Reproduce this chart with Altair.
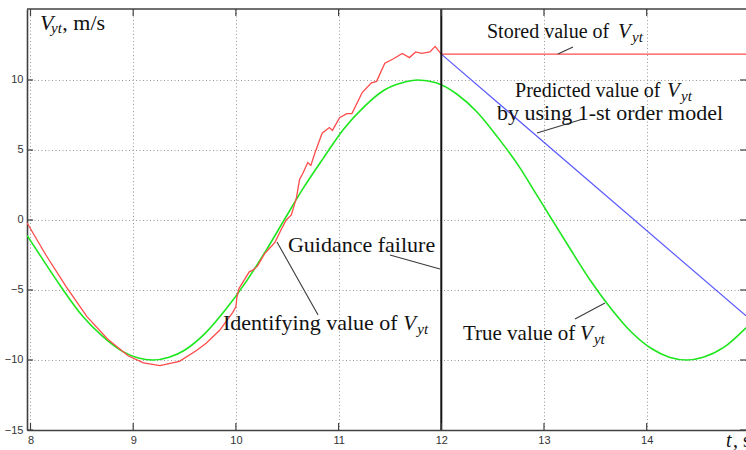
import altair as alt
import pandas as pd

# ---------------- data ----------------
T_MIN, T_MAX = 7.966, 14.967
V_MIN, V_MAX = -15.0, 15.07

true_t = [7.966, 8.10, 8.30, 8.50, 8.70, 8.90, 9.05, 9.19, 9.35, 9.50, 9.70, 9.90,
          10.10, 10.30, 10.47, 10.65, 10.85, 11.05, 11.25, 11.45, 11.62, 11.77, 11.95,
          12.15, 12.35, 12.55, 12.75, 12.92, 13.08, 13.25, 13.45, 13.65, 13.85, 14.05,
          14.22, 14.39, 14.55, 14.75, 14.967]
true_v = [-1.1, -2.6, -4.8, -6.8, -8.3, -9.4, -9.85, -10.0, -9.8, -9.3, -8.1, -6.4,
          -4.4, -2.1, 0.0, 2.2, 4.4, 6.5, 8.1, 9.3, 9.8, 10.0, 9.8,
          9.0, 7.7, 5.9, 3.9, 1.9, 0.0, -2.0, -4.3, -6.3, -8.0, -9.2,
          -9.8, -10.0, -9.8, -9.1, -7.7]

ident_t = [7.966, 8.15, 8.35, 8.55, 8.75, 8.95, 9.10, 9.26, 9.45, 9.62, 9.71, 9.84,
           9.97, 10.00, 10.01, 10.03, 10.13, 10.16, 10.21, 10.28, 10.33, 10.38, 10.44,
           10.49, 10.54, 10.59, 10.62, 10.65, 10.70, 10.73, 10.77, 10.81, 10.84, 10.91,
           10.94, 11.01, 11.08, 11.13, 11.23, 11.32, 11.37, 11.45, 11.53, 11.62, 11.69,
           11.75, 11.81, 11.89, 11.94, 12.00]
ident_v = [-0.2, -2.5, -4.8, -6.9, -8.5, -9.7, -10.2, -10.4, -10.1, -9.3, -8.8, -7.9,
           -6.6, -6.2, -5.5, -4.9, -3.7, -3.6, -3.3, -2.4, -2.0, -1.6, -0.7,
           0.0, 0.36, 1.6, 2.9, 3.3, 4.1, 3.9, 4.8, 5.6, 6.2, 6.6,
           6.4, 7.3, 7.6, 7.6, 9.1, 9.8, 9.9, 11.2, 11.5, 11.9, 11.6,
           12.0, 11.9, 12.0, 12.4, 11.85]

stored_t = [12.0, 14.967]
stored_v = [11.85, 11.85]
pred_t = [12.0, 14.967]
pred_v = [11.85, -6.85]
failure_t = [12.0]

x_ticks = [8, 9, 10, 11, 12, 13, 14]
y_ticks = [-15, -10, -5, 0, 5, 10]

label_text = ["Stored value of", "Predicted value of", "by using 1-st order model",
              "Guidance failure", "Identifying value of", "True value of"]
label_t = [12.445, 12.718, 12.542, 10.507, 9.874, 12.211]
label_v = [13.0, 8.78, 7.14, -2.29, -7.86, -8.57]
label_size = [20, 20, 22, 22, 22, 21]

vsym_t = [13.72, 14.198, 11.63, 13.35]
vsym_v = [13.0, 8.78, -7.86, -8.57]
sub_t = [13.857, 14.334, 11.766, 13.486]
sub_v = [12.71, 8.50, -8.14, -8.86]

lead_t1 = [13.136, 12.932, 11.50, 10.40, 13.302]
lead_v1 = [11.86, 6.21, -2.50, -1.57, -7.07]
lead_t2 = [13.282, 13.380, 11.987, 10.80, 13.594]
lead_v2 = [12.36, 7.21, -3.50, -6.79, -5.93]

# ---------------- layout ----------------
W, H = 719, 421
SERIF = "Liberation Serif"
SANS = "Liberation Sans"

xs = alt.Scale(domain=[T_MIN, T_MAX], nice=False, zero=False)
ys = alt.Scale(domain=[V_MIN, V_MAX], nice=False, zero=False)

x_axis = alt.Axis(values=x_ticks, grid=True, ticks=False, labelPadding=4, title=None,
                  labelFont=SANS, labelFontSize=11, labelColor="#333",
                  domainColor="#404040", domainWidth=1.6,
                  gridColor="#999999", gridDash=[1, 2.5], gridWidth=1, format="d")
y_axis = alt.Axis(values=y_ticks, grid=True, ticks=False, labelPadding=4, title=None,
                  labelFont=SANS, labelFontSize=11, labelColor="#333",
                  domainColor="#404040", domainWidth=1.6,
                  gridColor="#999999", gridDash=[1, 2.5], gridWidth=1, format="d")


def X(field="t"):
    return alt.X(f"{field}:Q", scale=xs, axis=x_axis)


def Y(field="v"):
    return alt.Y(f"{field}:Q", scale=ys, axis=y_axis)


INK = "#111"
FRAME = "#404040"

# frame: top line and inward ticks
base_df = pd.DataFrame({"t": [T_MIN], "v": [V_MAX]})
xt_df = pd.DataFrame({"t": x_ticks})
yt_df = pd.DataFrame({"v": y_ticks})
top_line = alt.Chart(base_df).mark_rule(color=FRAME, strokeWidth=1.6).encode(
    x=alt.value(0), x2=alt.value(W), y=alt.value(0))
tick_bottom = alt.Chart(xt_df).mark_rule(color=FRAME, strokeWidth=1.2).encode(
    x=X(), y=alt.value(H), y2=alt.value(H - 7))
tick_top = alt.Chart(xt_df).mark_rule(color=FRAME, strokeWidth=1.2).encode(
    x=X(), y=alt.value(0), y2=alt.value(7))
tick_left = alt.Chart(yt_df).mark_rule(color=FRAME, strokeWidth=1.2).encode(
    y=Y(), x=alt.value(0), x2=alt.value(6))
tick_right = alt.Chart(yt_df).mark_rule(color=FRAME, strokeWidth=1.2).encode(
    y=Y(), x=alt.value(W), x2=alt.value(W - 6))

# curves
true_df = pd.DataFrame({"t": true_t, "v": true_v})
ident_df = pd.DataFrame({"t": ident_t, "v": ident_v})
stored_df = pd.DataFrame({"t": stored_t, "v": stored_v})
pred_df = pd.DataFrame({"t": pred_t, "v": pred_v})

true_line = alt.Chart(true_df).mark_line(color="#1ee61e", strokeWidth=1.6,
                                         interpolate="monotone", clip=True).encode(
    x=X(), y=Y(), order="t:Q")
ident_line = alt.Chart(ident_df).mark_line(color="#ff4a4a", strokeWidth=1.3, clip=True).encode(
    x=X(), y=Y(), order="t:Q")
stored_line = alt.Chart(stored_df).mark_line(color="#ff4a4a", strokeWidth=1.3, clip=True).encode(
    x=X(), y=Y())
pred_line = alt.Chart(pred_df).mark_line(color="#5a5aff", strokeWidth=1.2, clip=True).encode(
    x=X(), y=Y())

fail_rule = alt.Chart(pd.DataFrame({"t": failure_t})).mark_rule(color=INK, strokeWidth=2).encode(
    x=X(), y=alt.value(0), y2=alt.value(H))

# leader lines
lead_df = pd.DataFrame({"t": lead_t1, "v": lead_v1, "t2": lead_t2, "v2": lead_v2})
leaders = alt.Chart(lead_df).mark_rule(color="#3a3a3a", strokeWidth=1.1).encode(
    x=X(), y=Y(), x2="t2:Q", y2="v2:Q")

# annotation texts
lab_df = pd.DataFrame({"t": label_t, "v": label_v, "txt": label_text, "fs": label_size})
labels = alt.Chart(lab_df).mark_text(font=SERIF, align="left",
                                     baseline="alphabetic", color=INK).encode(
    x=X(), y=Y(), text="txt:N", size=alt.Size("fs:Q", scale=None, legend=None))
vs_df = pd.DataFrame({"t": vsym_t, "v": vsym_v, "txt": ["V"] * len(vsym_t)})
vsyms = alt.Chart(vs_df).mark_text(font=SERIF, fontSize=21, fontStyle="italic", align="left",
                                   baseline="alphabetic", color=INK).encode(
    x=X(), y=Y(), text="txt:N")
sb_df = pd.DataFrame({"t": sub_t, "v": sub_v, "txt": ["yt"] * len(sub_t)})
subs = alt.Chart(sb_df).mark_text(font=SERIF, fontSize=15, fontStyle="italic", align="left",
                                  baseline="alphabetic", color=INK).encode(
    x=X(), y=Y(), text="txt:N")


def txt(t, v, s, size, italic=False):
    kw = dict(font=SERIF, fontSize=size, align="left", baseline="alphabetic", color=INK)
    if italic:
        kw["fontStyle"] = "italic"
    return alt.Chart(pd.DataFrame({"t": [t], "v": [v], "txt": [s]})).mark_text(**kw).encode(
        x=X(), y=Y(), text="txt:N")


# axis titles (as text)
title_v = txt(8.093, 13.57, "V", 22, italic=True)
title_sub = txt(8.2, 13.36, "yt", 15, italic=True)
title_unit = txt(8.31, 13.57, ", m/s", 22)
xt_t = txt(14.772, -16.21, "t", 20, italic=True)
xt_s = txt(14.84, -16.21, ", s", 20)

chart = alt.layer(
    true_line, ident_line, stored_line, pred_line, fail_rule,
    top_line, tick_bottom, tick_top, tick_left, tick_right,
    leaders, labels, vsyms, subs, title_v, title_sub, title_unit, xt_t, xt_s,
).properties(
    width=W, height=H,
    autosize=alt.AutoSizeParams(type="none"),
    padding={"left": 27, "top": 9, "right": 0, "bottom": 20},
    background="white",
).configure_view(stroke=None)

chart.save("out.html", embed_options={"renderer": "svg", "actions": False})
